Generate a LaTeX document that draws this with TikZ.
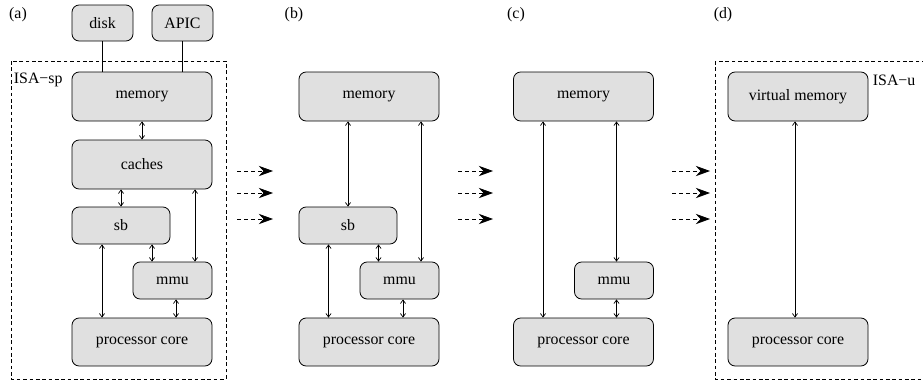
\documentclass[tikz,border=0pt]{standalone}
\usepackage{fontspec}
\setmainfont{Liberation Serif}
\usetikzlibrary{arrows.meta}
\definecolor{boxgray}{gray}{0.88}
\begin{document}
\begin{tikzpicture}[x=0.63pt, y=-0.63pt,
    unit/.style 2 args={draw, fill=boxgray, rounded corners=4.5pt, line width=0.5pt,
      inner sep=0pt, minimum width=#1*0.63pt, minimum height=#2*0.63pt},
    link/.style={{Straight Barb[length=2.2pt,width=3.2pt]}-{Straight Barb[length=2.2pt,width=3.2pt]}, line width=0.45pt},
    evolve/.style={-{Stealth[length=9pt,width=6.5pt,inset=3pt]}, dash pattern=on 2.5pt off 2pt, line width=0.5pt},
    region/.style={draw, dash pattern=on 2.3pt off 1.7pt, line width=0.5pt}]
    \clip (0,0) rectangle (923,381);

    % Panel labels
    \node (tagA) at (18,15) {(a)};
    \node (tagB) at (294,15) {(b)};
    \node (tagC) at (516,15) {(c)};
    \node (tagD) at (723,15) {(d)};

    % (a) full system
    \draw[region] (11,61) rectangle (226,379);
    \node[anchor=west, inner sep=1pt] (isaSp) at (12,80) {ISA−sp};
    \node[unit={61}{36}] (disk) at (102.5,23) {disk};
    \node[unit={61}{36}] (apic) at (182.5,23) {APIC};
    \node[unit={140}{49}] (memA) at (142,96.5) {memory};
    \node[unit={140}{49}] (cachesA) at (142,164.5) {caches};
    \node[unit={98}{37}] (sbA) at (121,225.5) {sb};
    \node[unit={79}{37}] (mmuA) at (172.5,280.5) {mmu};
    \node[unit={140}{48}] (coreA) at (142,342) {processor core};

    \draw[line width=0.45pt] (disk.south) -- (disk.south |- memA.north);
    \draw[line width=0.45pt] (apic.south) -- (apic.south |- memA.north);
    \draw[link] (memA) -- (cachesA);
    \draw[link] (cachesA.south -| sbA.north) -- (sbA.north);
    \draw[link] (cachesA.south -| 195,0) -- (mmuA.north -| 195,0);
    \draw[link] (sbA.south -| 152,0) -- (mmuA.north -| 152,0);
    \draw[link] (sbA.south -| 102,0) -- (coreA.north -| 102,0);
    \draw[link] (mmuA.south -| 176,0) -- (coreA.north -| 176,0);

    % (b) caches removed
    \node[unit={140}{49}] (memB) at (369,96.5) {memory};
    \node[unit={98}{37}] (sbB) at (348,225.5) {sb};
    \node[unit={79}{37}] (mmuB) at (399.5,280.5) {mmu};
    \node[unit={140}{48}] (coreB) at (369,342) {processor core};

    \draw[link] (memB.south -| sbB.north) -- (sbB.north);
    \draw[link] (memB.south -| 421,0) -- (mmuB.north -| 421,0);
    \draw[link] (sbB.south -| 378.5,0) -- (mmuB.north -| 378.5,0);
    \draw[link] (sbB.south -| 328.5,0) -- (coreB.north -| 328.5,0);
    \draw[link] (mmuB.south -| 403,0) -- (coreB.north -| 403,0);

    % (c) sb removed
    \node[unit={140}{49}] (memC) at (583.5,96.5) {memory};
    \node[unit={79}{37}] (mmuC) at (614,280.5) {mmu};
    \node[unit={140}{48}] (coreC) at (583.5,342) {processor core};

    \draw[link] (memC.south -| 543,0) -- (coreC.north -| 543,0);
    \draw[link] (memC.south -| 616.5,0) -- (mmuC.north -| 616.5,0);
    \draw[link] (mmuC.south -| 616.5,0) -- (coreC.north -| 616.5,0);

    % (d) user view
    \draw[region] (715,61) rectangle (950,379);
    \node[anchor=west, inner sep=1pt] (isaU) at (871,80) {ISA−u};
    \node[unit={140}{49}] (vmemD) at (798,96.5) {virtual memory};
    \node[unit={140}{48}] (coreD) at (798,342) {processor core};

    \draw[link] (vmemD.south -| 795,0) -- (coreD.north -| 795,0);

    % Transitions
    \foreach \yy in {171,193,219} {
        \draw[evolve] (237,\yy) -- (273,\yy);
        \draw[evolve] (458,\yy) -- (493,\yy);
        \draw[evolve] (672,\yy) -- (710,\yy);
    }
\end{tikzpicture}
\end{document}
